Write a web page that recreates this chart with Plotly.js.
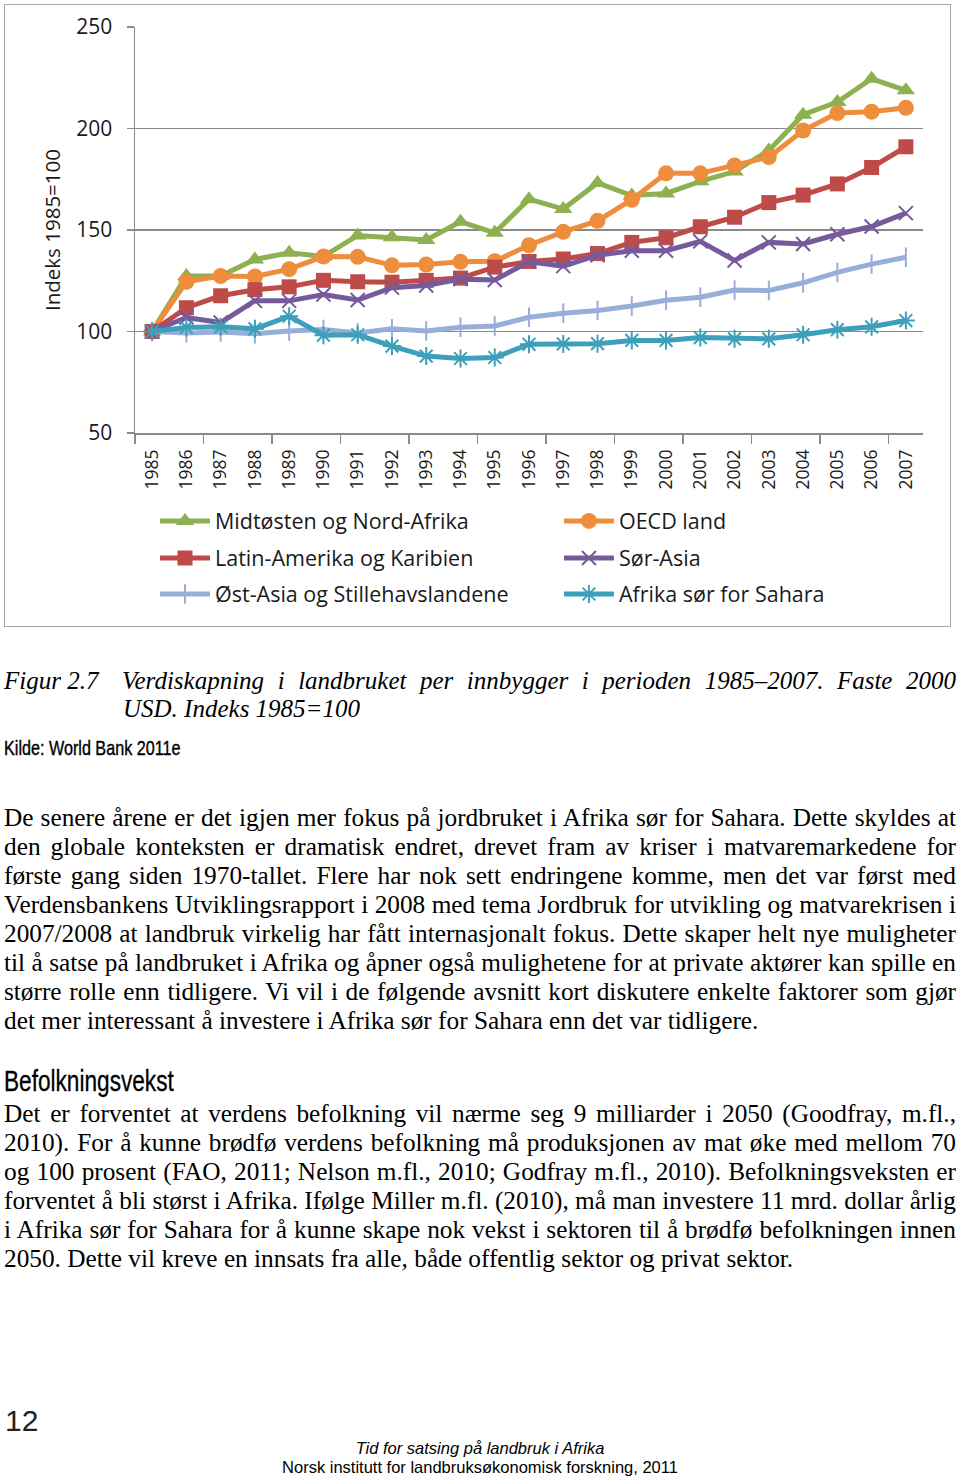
<!DOCTYPE html>
<html><head><meta charset="utf-8">
<script src="https://cdn.plot.ly/plotly-3.0.1.min.js"></script>
<style>
body{margin:0;background:#fff;}
#page{position:relative;width:960px;height:1480px;overflow:hidden;background:#fff;}
#chartbox{position:absolute;left:4px;top:4px;width:945px;height:621px;border:1.5px solid #a8a8a8;}
#chart{position:absolute;left:0;top:0;width:960px;height:630px;}
.serif{font-family:"Liberation Serif","Times New Roman",serif;font-size:25.3px;color:#000;}
.line{position:absolute;left:4px;width:952px;height:29px;line-height:29px;white-space:nowrap;text-align:justify;text-align-last:justify;}
.last{text-align:left;text-align-last:left;}
.cap{position:absolute;font-family:"Liberation Serif","Times New Roman",serif;font-style:italic;font-size:25px;line-height:28px;white-space:nowrap;color:#000;}
.narrow{position:absolute;font-family:"Liberation Sans",Arial,sans-serif;color:#000;white-space:nowrap;transform-origin:0 0;}
.foot{position:absolute;left:0;width:960px;text-align:center;font-family:"Liberation Sans",Arial,sans-serif;font-size:16.5px;line-height:19px;color:#000;}
</style>
</head><body>
<div id="page">
  <div id="chartbox"></div>
  <div id="chart"></div>

  <div class="cap" style="left:4px;top:667px;">Figur 2.7</div>
  <div class="cap" style="left:122px;top:667px;width:834px;text-align:justify;text-align-last:justify;">Verdiskapning i landbruket per innbygger i perioden 1985–2007. Faste 2000</div>
  <div class="cap" style="left:123px;top:695px;">USD. Indeks 1985=100</div>
  <div class="narrow" style="left:4px;top:736px;font-size:21px;line-height:24px;transform:scaleX(0.77);-webkit-text-stroke:0.4px #000;">Kilde: World Bank 2011e</div>

  <div class="serif">
    <div class="line" style="top:803px;">De senere årene er det igjen mer fokus på jordbruket i Afrika sør for Sahara. Dette skyldes at</div>
    <div class="line" style="top:832px;">den globale konteksten er dramatisk endret, drevet fram av kriser i matvaremarkedene for</div>
    <div class="line" style="top:861px;">første gang siden 1970-tallet. Flere har nok sett endringene komme, men det var først med</div>
    <div class="line" style="top:890px;">Verdensbankens Utviklingsrapport i 2008 med tema Jordbruk for utvikling og matvarekrisen i</div>
    <div class="line" style="top:919px;">2007/2008 at landbruk virkelig har fått internasjonalt fokus. Dette skaper helt nye muligheter</div>
    <div class="line" style="top:948px;">til å satse på landbruket i Afrika og åpner også mulighetene for at private aktører kan spille en</div>
    <div class="line" style="top:977px;">større rolle enn tidligere. Vi vil i de følgende avsnitt kort diskutere enkelte faktorer som gjør</div>
    <div class="line last" style="top:1006px;">det mer interessant å investere i Afrika sør for Sahara enn det var tidligere.</div>
  </div>

  <div class="narrow" style="left:4px;top:1064px;font-size:29px;line-height:34px;transform:scaleX(0.78);-webkit-text-stroke:0.3px #000;">Befolkningsvekst</div>

  <div class="serif">
    <div class="line" style="top:1099px;">Det er forventet at verdens befolkning vil nærme seg 9 milliarder i 2050 (Goodfray, m.fl.,</div>
    <div class="line" style="top:1128px;">2010). For å kunne brødfø verdens befolkning må produksjonen av mat øke med mellom 70</div>
    <div class="line" style="top:1157px;">og 100 prosent (FAO, 2011; Nelson m.fl., 2010; Godfray m.fl., 2010). Befolkningsveksten er</div>
    <div class="line" style="top:1186px;">forventet å bli størst i Afrika. Ifølge Miller m.fl. (2010), må man investere 11 mrd. dollar årlig</div>
    <div class="line" style="top:1215px;">i Afrika sør for Sahara for å kunne skape nok vekst i sektoren til å brødfø befolkningen innen</div>
    <div class="line last" style="top:1244px;">2050. Dette vil kreve en innsats fra alle, både offentlig sektor og privat sektor.</div>
  </div>

  <div style="position:absolute;left:5px;top:1403px;font-family:'Liberation Sans',Arial,sans-serif;font-size:30px;line-height:36px;color:#222;">12</div>
  <div class="foot" style="top:1439px;font-style:italic;">Tid for satsing på landbruk i Afrika</div>
  <div class="foot" style="top:1458px;">Norsk institutt for landbruksøkonomisk forskning, 2011</div>
</div>

<script>
const years = [1985,1986,1987,1988,1989,1990,1991,1992,1993,1994,1995,1996,1997,1998,1999,2000,2001,2002,2003,2004,2005,2006,2007];
const midtosten = [100,127.3,127.3,135.5,138.8,137.0,147.3,146.4,145.1,154.1,148.6,165.2,160.3,173.2,167.0,168.0,174.0,178.8,189.2,206.8,213.0,224.5,218.8];
const oecd      = [100,124.5,127.3,127.1,130.7,136.9,136.8,132.6,133.0,134.3,134.6,142.5,149.1,154.5,164.9,177.9,177.9,181.8,185.9,199.0,207.6,208.3,210.2];
const latin     = [100,111.7,117.6,120.6,122.0,125.2,124.5,124.3,125.2,126.3,131.7,134.5,135.7,138.4,143.9,146.2,151.6,156.3,163.5,167.2,172.7,180.8,191.0];
const sorasia   = [100,106.9,104.4,115.1,115.1,118.2,115.5,121.6,122.7,125.8,125.4,134.4,132.2,137.6,139.8,139.8,144.4,135.0,143.9,143.1,147.9,151.7,158.3];
const ostasia   = [100,99.3,99.8,98.9,100.2,101.0,99.3,101.3,100.3,102.1,102.7,107.0,109.0,110.4,112.6,115.4,116.9,120.4,120.2,124.0,129.1,133.2,136.6];
const afrika    = [100,102.0,102.3,101.3,107.5,98.2,98.4,92.8,87.9,86.7,87.2,93.7,93.9,94.0,95.6,95.6,97.0,96.4,96.4,98.4,100.9,102.3,105.4];

const names = ['Midtøsten og Nord-Afrika','OECD land','Latin-Amerika og Karibien','Sør-Asia','Øst-Asia og Stillehavslandene','Afrika sør for Sahara'];
const yTicks = [50,100,150,200,250];

const series = [midtosten, oecd, latin, sorasia, ostasia, afrika];
const colors = ['#8DB050','#EE8D3C','#BE4B48','#765A9C','#97AFD8','#3DA0BA'];
const symbols = ['triangle-up','circle','square','x-thin-open','line-ns-open','asterisk-open'];
const sizes = [16,16,15,14,14,15];
const legendIds = ['legend','legend2','legend3','legend4','legend5','legend6'];

const traces = series.map((vals,i)=>({
  type:'scatter', mode:'lines+markers', x:years, y:vals, name:names[i],
  line:{color:colors[i], width:5},
  marker:{symbol:symbols[i], size:sizes[i], color:colors[i], line:{color:colors[i], width:(i>=3?2:0)}},
  legend:legendIds[i], hoverinfo:'skip'
}));

const boundaries = years.filter((y,i)=>i%2===0).map(y=>y-0.5);
const grey = '#8a8a8a';

function leg(x,y){
  return {x:x, y:y, xanchor:'left', yanchor:'middle', orientation:'v', bgcolor:'rgba(0,0,0,0)',
          font:{family:'Open Sans', size:21.5, color:'#1a1a1a'}, itemwidth:50};
}
const colX = [0.0254, 0.538];
const rowY = [-0.2167, -0.3079, -0.3966];

const layout = {
  width:960, height:630,
  margin:{l:135, r:37, t:27, b:197},
  paper_bgcolor:'rgba(0,0,0,0)', plot_bgcolor:'rgba(0,0,0,0)',
  font:{family:'Open Sans', size:20, color:'#1a1a1a'},
  showlegend:true,
  xaxis:{range:[1984.5,2007.5], tickmode:'array', tickvals:years, ticktext:years.map(String),
         tickangle:-90, ticks:'', showgrid:false, zeroline:false, showline:true, linecolor:grey, linewidth:1.5,
         tickfont:{size:17.5}, ticklabelstandoff:8,
         minor:{tickmode:'array', tickvals:boundaries, ticks:'outside', ticklen:9, tickcolor:grey, tickwidth:1.5, showgrid:false}},
  yaxis:{range:[50,250], tickmode:'array', tickvals:yTicks, showgrid:true, gridcolor:grey, gridwidth:1.5,
         zeroline:false, showline:true, linecolor:grey, linewidth:1.5, ticks:'outside', ticklen:7,
         tickcolor:grey, tickwidth:1.5, tickfont:{size:21}, ticklabelstandoff:10,
         title:{text:'Indeks 1985=100', font:{size:20.5}, standoff:10}},
  legend: leg(colX[0], rowY[0]),
  legend2: leg(colX[1], rowY[0]),
  legend3: leg(colX[0], rowY[1]),
  legend4: leg(colX[1], rowY[1]),
  legend5: leg(colX[0], rowY[2]),
  legend6: leg(colX[1], rowY[2])
};

Plotly.newPlot('chart', traces, layout, {displayModeBar:false, staticPlot:true});
</script>
</body></html>
